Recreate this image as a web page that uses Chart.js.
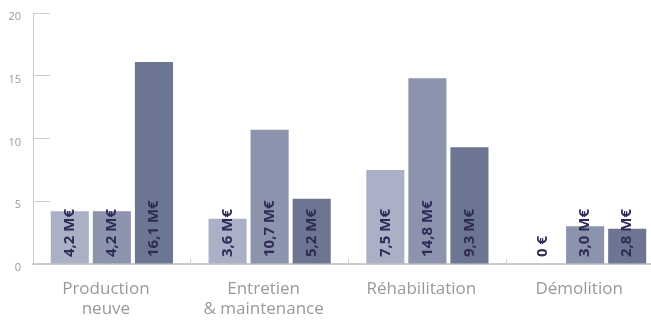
<!DOCTYPE html>
<html>
<head>
<meta charset="utf-8">
<script src="https://cdn.jsdelivr.net/npm/chart.js@4/dist/chart.umd.min.js"></script>
<style>
  html, body { margin: 0; padding: 0; background: #fff; overflow: hidden; }
  #wrap { width: 664px; height: 323px; }
</style>
</head>
<body>
<div id="wrap"><canvas id="budgetChart"></canvas></div>
<script>
// categories (multi-line labels)
const categories = [
  ["Production", "neuve"],
  ["Entretien", "& maintenance"],
  ["Réhabilitation"],
  ["Démolition"]
];
const serie1 = [4.2, 3.6, 7.5, 0];
const serie2 = [4.2, 10.7, 14.8, 3.0];
const serie3 = [16.1, 5.2, 9.3, 2.8];
const yTicks = [0, 5, 10, 15, 20];

const colors = ["#aab0c6", "#8b93ad", "#6c7693"];

function fmt(v) {
  if (v === 0) return "0 €";
  return v.toFixed(1).replace(".", ",") + " M€";
}

// draws rotated value labels at the bottom of each bar
const barLabels = {
  id: "barLabels",
  afterDatasetsDraw(chart) {
    const ctx = chart.ctx;
    const base = chart.scales.y.getPixelForValue(0);
    ctx.save();
    ctx.font = "bold 15px 'Open Sans', sans-serif";
    ctx.fillStyle = "#2f2b56";
    ctx.textAlign = "left";
    ctx.textBaseline = "middle";
    chart.data.datasets.forEach((ds, i) => {
      chart.getDatasetMeta(i).data.forEach((bar, j) => {
        ctx.save();
        ctx.translate(bar.x, base - 7);
        ctx.rotate(-Math.PI / 2);
        ctx.fillText(fmt(ds.data[j]), 0, 0);
        ctx.restore();
      });
    });
    ctx.restore();
  }
};

new Chart(document.getElementById("budgetChart"), {
  type: "bar",
  data: {
    labels: categories,
    datasets: [
      { label: "Série 1", data: serie1, backgroundColor: colors[0] },
      { label: "Série 2", data: serie2, backgroundColor: colors[1] },
      { label: "Série 3", data: serie3, backgroundColor: colors[2] }
    ]
  },
  plugins: [barLabels],
  options: {
    responsive: true,
    maintainAspectRatio: false,
    animation: false,
    layout: { padding: { top: 13, right: 0, left: 0, bottom: 0 } },
    datasets: { bar: { categoryPercentage: 0.8, barPercentage: 0.905 } },
    plugins: { legend: { display: false }, tooltip: { enabled: false } },
    scales: {
      x: {
        afterFit: (s) => { s.height = 59; s.paddingLeft = 0; s.paddingRight = 0; },
        grid: { drawOnChartArea: false, tickLength: -5, color: "#cccccc" },
        border: { color: "#cccccc", width: 2 },
        ticks: {
          color: "#999999",
          padding: 20,
          labelOffset: -6,
          font: { family: "'Open Sans', sans-serif", size: 17 }
        }
      },
      y: {
        min: 0,
        max: 20,
        afterFit: (s) => { s.width = 33; s.paddingTop = 0; s.paddingBottom = 0; },
        afterBuildTicks: (s) => { s.ticks = yTicks.map(v => ({ value: v })); },
        grid: { drawOnChartArea: false, tickLength: -17, color: "#cccccc" },
        border: { color: "#cccccc", width: 1 },
        ticks: {
          color: "#999999",
          padding: 29,
          labelOffset: 4,
          font: { family: "'Open Sans', sans-serif", size: 11 }
        }
      }
    }
  }
});
</script>
</body>
</html>
